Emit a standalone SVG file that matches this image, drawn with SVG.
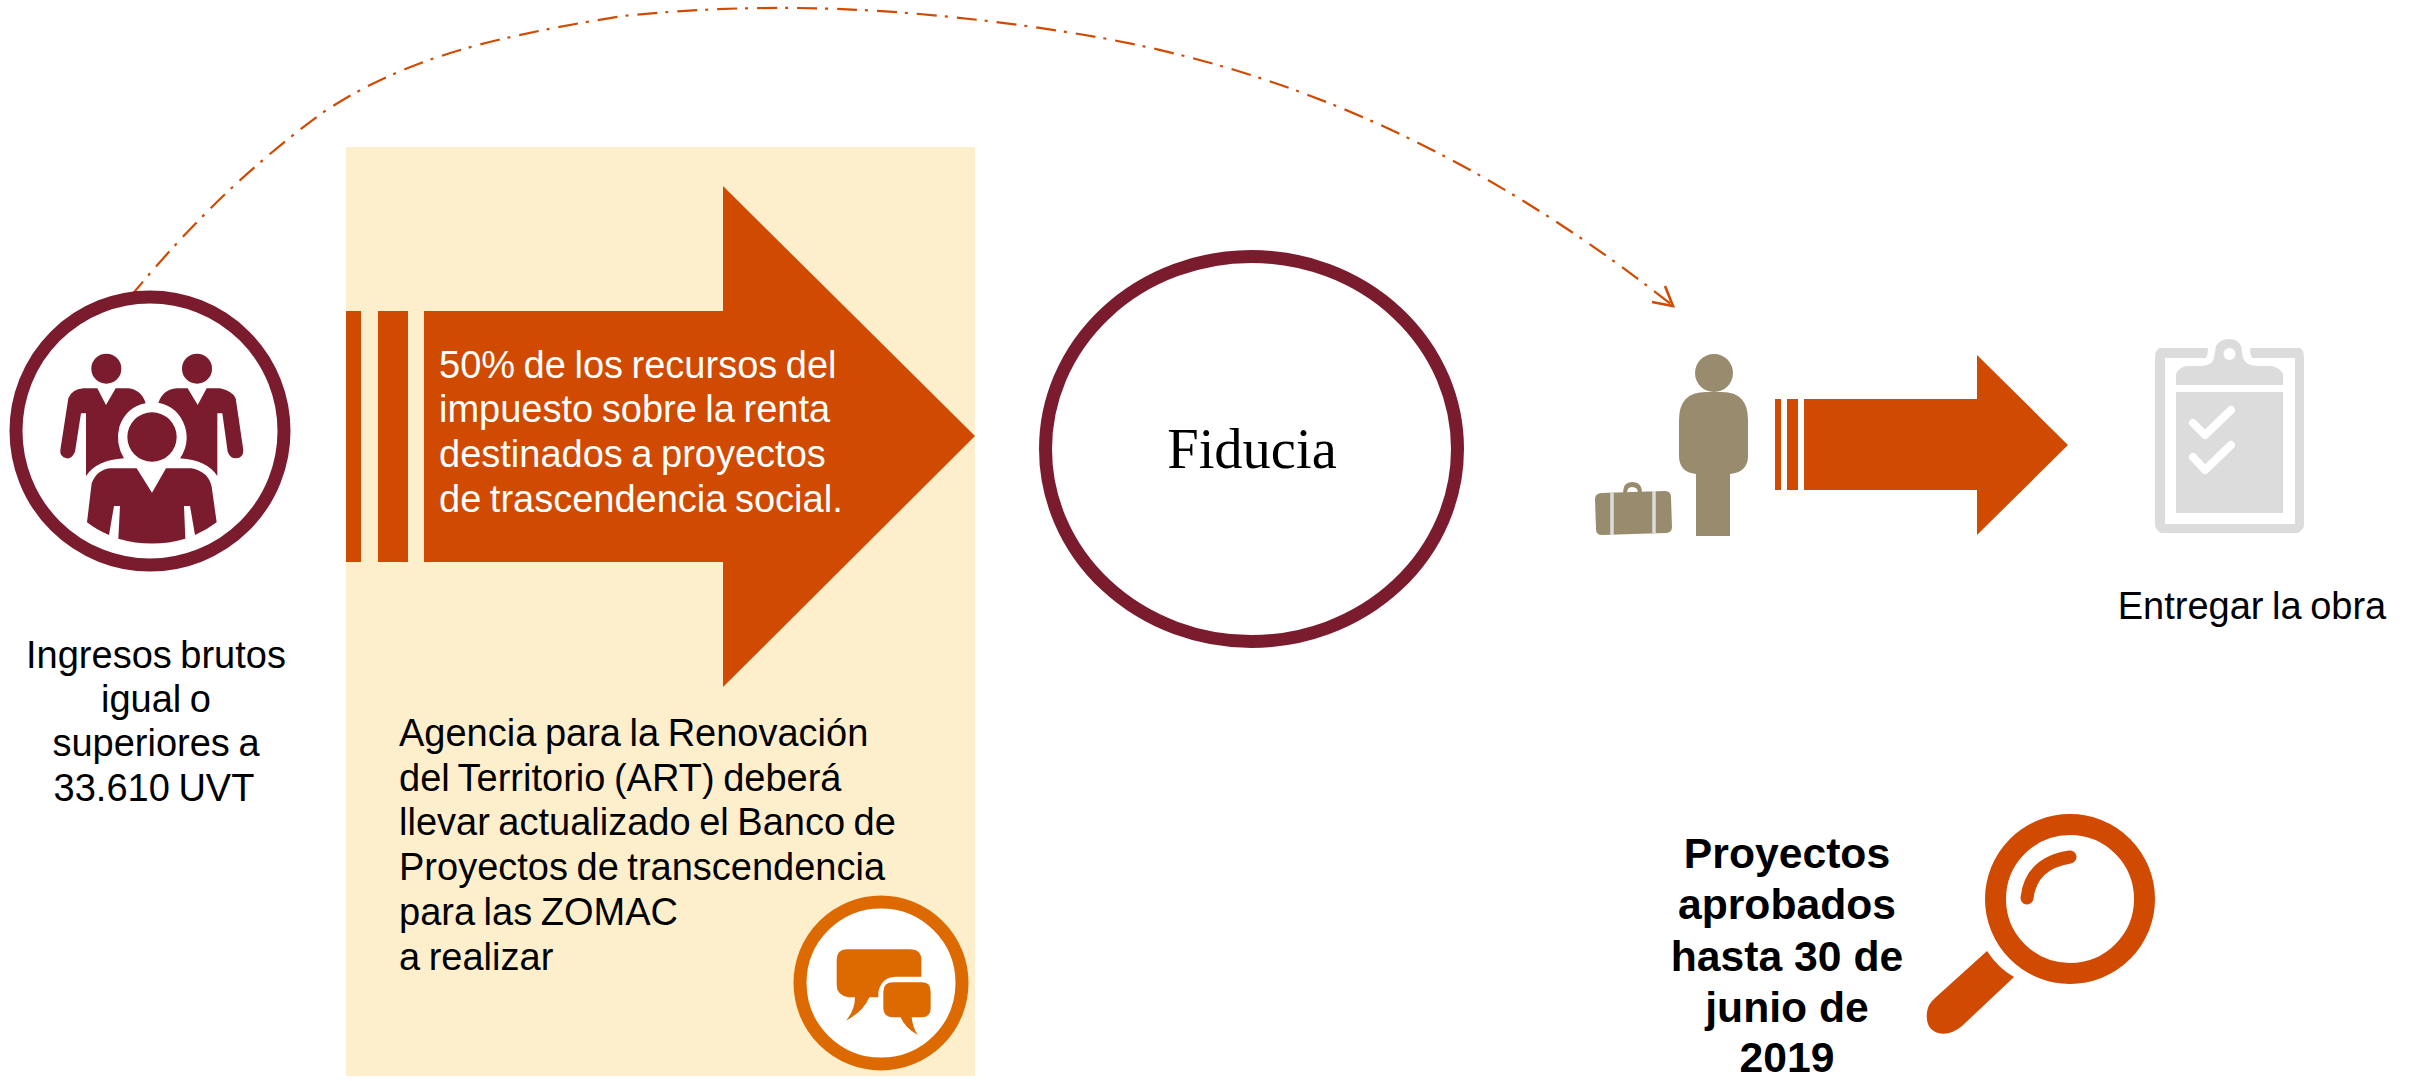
<svg xmlns="http://www.w3.org/2000/svg" width="2417" height="1081" viewBox="0 0 2417 1081">
<style>
.s{font-family:"Liberation Sans",Arial,sans-serif;font-size:38px;word-spacing:-2px;fill:#000}
.c{text-anchor:middle}
.w{fill:#fff}
.b{font-family:"Liberation Sans",Arial,sans-serif;font-size:42.67px;font-weight:700;text-anchor:middle;fill:#000}
.o{fill:#d04a02}
.r{fill:#7b1c2e}
.t{fill:#998c6e}
.g{fill:#dcdcdc}
.a{fill:#dd6a00}
</style>
<rect id="panel" x="346" y="147" width="629" height="929" fill="#feefcc"/>
<g id="connectors">
<path d="M130 297 C 190 225 245 170 322 113 C 395 65 470 40 623 16 C 760 2 900 5 1079 34 C 1250 62 1450 130 1672 305" fill="none" stroke="#d04a02" stroke-width="2.200" stroke-dasharray="20 8 3 9"/>
<path d="M1665 286 L1673 306 L1652 302" fill="none" stroke="#d04a02" stroke-width="2.600"/>
</g>
<g id="node-people">
<circle cx="150" cy="431" r="134" fill="#fff" stroke="#7b1c2e" stroke-width="13"/>
<g transform="translate(0 270) scale(.33333)" class="r">
<circle cx="319" cy="296" r="45"/><circle cx="591" cy="296" r="45"/>
<path d="M205 385 Q215 358 250 355 L292 355 L318 405 L347 355 L385 355 Q425 360 437 400 Q380 410 358 470 Q345 520 372 565 Q290 570 258 618 L258 430 L243 430 L225 545 Q215 567 200 565 Q178 560 181 540Z"/>
<path d="M475 398 Q490 358 530 355 L563 355 L593 405 L620 355 L660 355 Q700 365 707 385 L730 540 Q730 565 708 565 Q690 565 683 545 L667 430 L652 430 L652 618 Q620 570 540 565 Q570 520 555 470 Q535 410 475 398Z"/>
<circle cx="456" cy="501" r="74"/>
<path d="M275 640 Q290 600 330 595 L410 595 L456 668 L498 595 L575 595 Q625 605 635 650 L650 757 Q620 780 585 795 L570 708 L552 708 L556 806 Q456 835 355 806 L360 708 L342 708 L327 795 Q290 780 261 757Z"/>
</g>
<text class="s c"><tspan x="156" y="668">Ingresos brutos</tspan><tspan x="156" y="712">igual o</tspan><tspan x="156" y="756">superiores a</tspan><tspan x="154" y="801">33.610 UVT</tspan></text>
</g>
<g id="node-recursos">
<path class="o" d="M346 311H361V562H346Z M378 311H408V562H378Z M424 311H723V186L975 436L723 687V562H424Z"/>
<text class="s w"><tspan x="439" y="378">50% de los recursos del</tspan><tspan x="439" y="422">impuesto sobre la renta</tspan><tspan x="439" y="467">destinados a proyectos</tspan><tspan x="439" y="512">de trascendencia social.</tspan></text>
</g>
<g id="node-agencia">
<text class="s"><tspan x="399" y="746">Agencia para la Renovación</tspan><tspan x="399" y="791">del Territorio (ART) deberá</tspan><tspan x="399" y="835">llevar actualizado el Banco de</tspan><tspan x="399" y="880">Proyectos de transcendencia</tspan><tspan x="399" y="925">para las ZOMAC</tspan><tspan x="399" y="970">a realizar</tspan></text>
</g>
<g id="node-chat">
<circle cx="881" cy="983" r="81" fill="#fff" stroke="#dd6a00" stroke-width="13"/>
<g transform="translate(760 880) scale(.33333)" class="a">
<path d="M260 208 L450 208 Q484 208 484 240 L484 290 L410 290 Q365 290 355 335 L355 352 L328 352 Q310 395 258 422 Q285 390 285 352 L265 352 Q230 345 230 315 L230 240 Q230 208 260 208Z"/>
<path d="M400 307 L485 307 Q512 307 512 335 L512 385 Q512 412 485 412 L455 412 Q458 445 474 465 Q435 445 422 412 L400 412 Q370 412 370 385 L370 335 Q370 307 400 307Z"/>
</g>
</g>
<g id="node-fiducia">
<ellipse cx="1251.500" cy="449" rx="206" ry="192.500" fill="#fff" stroke="#7b1c2e" stroke-width="13"/>
<text x="1252" y="468" text-anchor="middle" font-family="'Liberation Serif','Times New Roman',serif" font-size="56.500" fill="#000">Fiducia</text>
</g>
<g id="node-person">
<g class="t">
<circle cx="1714" cy="373" r="19"/>
<path d="M1679 420 Q1679 392 1706 392 H1722 Q1748 392 1748 420 V456 Q1748 472 1730 474 V536 H1696 V474 Q1679 472 1679 456Z"/>
<path d="M1601 493 L1665 491 Q1671 491 1671 497 L1672 527 Q1672 533 1665 533 L1602 535 Q1596 535 1596 529 L1595 499 Q1595 494 1601 493Z"/>
<path d="M1623 493 Q1623 482 1632 482 Q1642 482 1642 493 H1638 Q1638 487 1632 487 Q1627 487 1627 493Z"/>
</g>
<path d="M1612 493V535M1654 491V533" stroke="#dcdcdc" stroke-width="3.500" fill="none"/>
</g>
<g id="node-arrow">
<path class="o" d="M1775 399H1781V490H1775Z M1787 399H1798V490H1787Z M1804 399H1977V355L2068 445L1977 535V490H1804Z"/>
</g>
<g id="node-clipboard">
<path class="g" d="M2160 348 H2208 Q2208 354 2206 358 H2165 V524 H2295 V358 H2252 Q2250 354 2250 348 H2300 Q2304 350 2304 358 V524 Q2304 530 2298 533 H2161 Q2155 530 2155 524 V358 Q2155 350 2160 348Z"/>
<path class="g" d="M2176 385 V374 Q2180 366 2188 366 H2200 Q2212 366 2214 358 L2216 346 Q2220 339 2229 339 Q2238 339 2241 346 L2243 358 Q2246 366 2258 366 H2272 Q2280 368 2283 374 V385Z"/>
<ellipse cx="2229.500" cy="354" rx="6" ry="6" fill="#fff"/>
<rect class="g" x="2176" y="392" width="107" height="121"/>
<path d="M2193 423L2205 435L2231 410M2193 457L2205 470L2231 445" fill="none" stroke="#fff" stroke-width="8" stroke-linecap="round" stroke-linejoin="round"/>
<text class="s c" x="2252" y="619">Entregar la obra</text>
</g>
<g id="node-proyectos">
<text class="b"><tspan x="1787" y="868">Proyectos</tspan><tspan x="1787" y="919">aprobados</tspan><tspan x="1787" y="971">hasta 30 de</tspan><tspan x="1787" y="1022">junio de</tspan><tspan x="1787" y="1072">2019</tspan></text>
<circle cx="2070" cy="899" r="74.500" fill="none" stroke="#d04a02" stroke-width="21"/>
<path d="M2027 898 Q2031 863 2070 857" fill="none" stroke="#d04a02" stroke-width="13" stroke-linecap="round"/>
<path class="o" d="M1987 951 Q1998 968 2014 977 L1962 1026 Q1950 1036 1938 1033 Q1925 1029 1927 1012 Q1928 1004 1935 998Z"/>
</g>
</svg>
